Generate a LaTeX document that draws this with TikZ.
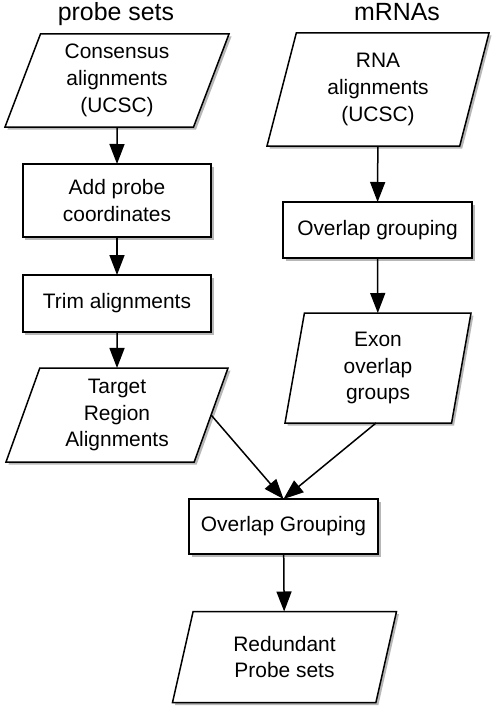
\documentclass[tikz,border=0pt]{standalone}
\usepackage{fontspec}
\setmainfont{Liberation Sans}
\usetikzlibrary{shapes.geometric,arrows.meta,shadows}
\begin{document}
\begin{tikzpicture}[x=1bp,y=-1bp,
  base/.style={draw=black, line width=1.5bp, fill=white, align=center,
    outer sep=0pt, inner sep=0pt, font=\fontsize{21}{27}\selectfont,
    drop shadow={shadow xshift=2.5bp, shadow yshift=-2.5bp, opacity=0.35, fill=black!80}},
  procbox/.style={base, rectangle, minimum width=188bp},
  databox/.style={base, trapezium, trapezium stretches body},
  title/.style={anchor=base, font=\fontsize{25}{30}\selectfont},
  arr/.style={-{Triangle[length=20bp,width=15bp]}, line width=1.5bp}]
\useasboundingbox (0,0) rectangle (503,718);
\fill[white] (0,0) rectangle (503,718);

\node[title] (t1) at (116,21) {probe sets};
\node[title] (t2) at (397,21) {mRNAs};

\node[databox, trapezium left angle=64, trapezium right angle=116,
  minimum width=224bp, minimum height=93bp] (p1) at (117,80.5)
  {Consensus\\alignments\\(UCSC)};
\node[procbox, minimum height=73bp] (add) at (117,200.5) {Add probe\\coordinates};
\node[procbox, minimum height=57bp] (trim) at (117,303.5) {Trim alignments};
\node[databox, trapezium left angle=65, trapezium right angle=115,
  minimum width=222bp, minimum height=94bp] (tra) at (117,415)
  {Target\\Region\\Alignments};

\node[databox, trapezium left angle=68, trapezium right angle=112,
  minimum width=222bp, minimum height=113bp] (rna) at (378,89.5)
  {RNA\\alignments\\(UCSC)};
\node[procbox, minimum width=189bp, minimum height=56bp] (ogr) at (377.5,230) {Overlap grouping};
\node[databox, trapezium left angle=75, trapezium right angle=105,
  minimum width=186bp, minimum height=110bp] (exon) at (378,368)
  {Exon\\overlap\\groups};

\node[procbox, minimum width=189bp, minimum height=55bp] (og) at (283.5,526.5) {Overlap Grouping};
\node[databox, trapezium left angle=64, trapezium right angle=116,
  minimum width=224bp, minimum height=91bp] (red) at (284.5,657)
  {Redundant\\Probe sets};

\draw[arr] (p1) -- (add);
\draw[arr] (add) -- (trim);
\draw[arr] (trim) -- (tra);
\draw[arr] (rna) -- (ogr);
\draw[arr] (ogr) -- (exon);
\draw[arr] (tra.right side) -- (og.north);
\draw[arr] ([xshift=-2bp]exon.center |- exon.bottom side) -- (og.north);
\draw[arr] (og) -- (red);
\end{tikzpicture}
\end{document}
